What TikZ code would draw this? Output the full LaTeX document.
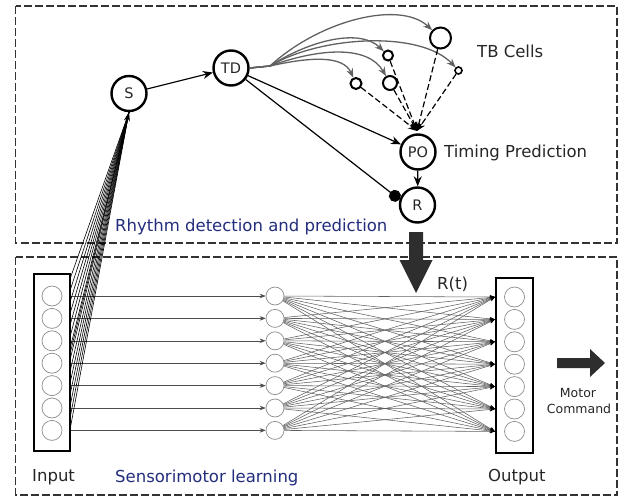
\documentclass[tikz,border=0pt]{standalone}
\usepackage{fontspec}
\setmainfont{DejaVu Sans}
\usetikzlibrary{arrows.meta}
\definecolor{navy}{RGB}{35,45,125}
\definecolor{ink}{gray}{0.15}
\begin{document}
\begin{tikzpicture}[x=1pt,y=-1pt,
  panel/.style={draw=black!80, line width=1.2pt, dash pattern=on 8pt off 3pt},
  bignode/.style={circle, draw=black, line width=2.4pt, minimum size=35pt, inner sep=0pt, font=\fontsize{14.5}{14.5}\selectfont, text=ink},
  tbcell/.style={circle, draw=black, line width=2pt, inner sep=0pt},
  unit/.style={circle, draw=black!45, line width=0.7pt, minimum size=20pt, inner sep=0pt},
  hunit/.style={circle, draw=black!45, line width=0.7pt, minimum size=18pt, inner sep=0pt},
  layerbox/.style={draw=black, line width=2.4pt, inner sep=0pt},
  lbl/.style={font=\fontsize{16.5}{18}\selectfont, text=ink, inner sep=0pt, anchor=base west},
  bluelbl/.style={lbl, text=navy},
  smalllbl/.style={font=\fontsize{12.5}{14}\selectfont, text=ink, inner sep=0pt, anchor=base},
  arr/.style={-{Stealth[length=10pt,width=8pt]}, line width=1.2pt},
  greyarr/.style={-{Stealth[length=9pt,width=7pt]}, line width=1.3pt, draw=black!62},
  dasharr/.style={-{Stealth[length=9pt,width=7pt]}, line width=1.2pt, dash pattern=on 6pt off 3pt},
  fanline/.style={line width=0.6pt, draw=black},
  thinarr/.style={-{Stealth[length=6pt,width=4.5pt]}, line width=0.6pt, draw=black!70},
  netarr/.style={-{Stealth[length=5pt,width=4pt,color=black]}, line width=0.55pt, draw=black!62},
  fat/.style={fill=black!82, draw=none},
]
\useasboundingbox (0,0) rectangle (622,498);
% panels
\draw[panel] (15.5,6) rectangle (617,243);
\draw[panel] (15.5,257) rectangle (617,495);

% top network nodes
\node[bignode] (S) at (129,93.5) {S};
\node[bignode] (TD) at (231,68) {TD};
\node[bignode] (PO) at (418,152) {PO};
\node[bignode] (R) at (417.5,205) {R};

\node[tbcell, minimum size=21pt] (tb1) at (440.5,38) {};
\node[tbcell, minimum size=10pt] (tb2) at (388,55.5) {};
\node[tbcell, minimum size=7pt, line width=1.6pt] (tb3) at (458.5,70.5) {};
\node[tbcell, minimum size=11pt] (tb4) at (356,83.5) {};
\node[tbcell, minimum size=14pt] (tb5) at (390,83) {};

\coordinate (fan) at (270,66);
\coordinate (conv) at (417,131);

\draw[arr] (S) -- (TD);
\draw[greyarr] (TD.east) -- (fan) .. controls (320,20) and (400,0) .. (tb1);
\draw[greyarr] (TD.east) -- (fan) .. controls (310,40) and (360,28) .. (tb2);
\draw[greyarr] (TD.east) -- (fan) .. controls (320,36) and (420,30) .. (tb3);
\draw[greyarr] (TD.east) -- (fan) .. controls (320,48) and (368,45) .. (tb5);
\draw[greyarr] (TD.east) -- (fan) .. controls (310,57) and (343,55) .. (tb4);

\foreach \t in {tb1,tb2,tb3,tb4,tb5}
  \draw[dasharr] (\t) -- (conv);

\draw[arr] (TD) -- (PO);
\draw[line width=1.2pt, -{Circle[length=12pt,width=12pt]}] (TD) -- (R.163);
\draw[arr] (PO) -- (R);

% labels top
\node[lbl] (tblbl) at (477,57) {TB Cells};
\node[lbl] (tplbl) at (444,157) {Timing Prediction};
\node[bluelbl] (rdlbl) at (115,231) {Rhythm detection and prediction};

% bottom network
\node[layerbox, minimum width=36pt, minimum height=177pt] (inbox) at (52,362.5) {};
\node[layerbox, minimum width=37pt, minimum height=175pt] (outbox) at (514.5,365.5) {};
\foreach \i in {0,...,6} {
  \node[unit] (in\i) at (52,{296+22.4*\i}) {};
  \node[hunit] (h\i) at (275,{296+22.4*\i}) {};
  \node[unit] (out\i) at (514.5,{297+22.4*\i}) {};
}
\foreach \i in {0,...,6}
  \draw[thinarr] (inbox.east |- in\i) -- (h\i);
\foreach \i in {0,...,6}
  \foreach \j in {0,...,6}
    \draw[netarr] (h\i) -- (outbox.west |- out\j);

% fan from input to S
\foreach \k in {0,...,13}
  \draw[fanline] (70,{279+11.6*\k}) -- (S.south);
\draw[fanline, -{Stealth[length=9pt,width=6pt]}] (70,354) -- (S.south);

% big arrows
\fill[fat] (409,232) -- (423,232) -- (423,260) -- (432.5,260) -- (416,293) -- (399.5,260) -- (409,260) -- cycle;
\fill[fat] (557,358) -- (590,358) -- (590,349) -- (605,363) -- (590,377) -- (590,368) -- (557,368) -- cycle;

% labels bottom
\node[lbl] (rtlbl) at (437,289) {R(t)};
\node[bluelbl] (smlbl) at (115,482) {Sensorimotor learning};
\node[lbl] (inlbl) at (32,481) {Input};
\node[lbl] (outlbl) at (488,481) {Output};
\node[smalllbl] (motor) at (578,397) {Motor};
\node[smalllbl] (command) at (579,413) {Command};
\end{tikzpicture}
\end{document}
